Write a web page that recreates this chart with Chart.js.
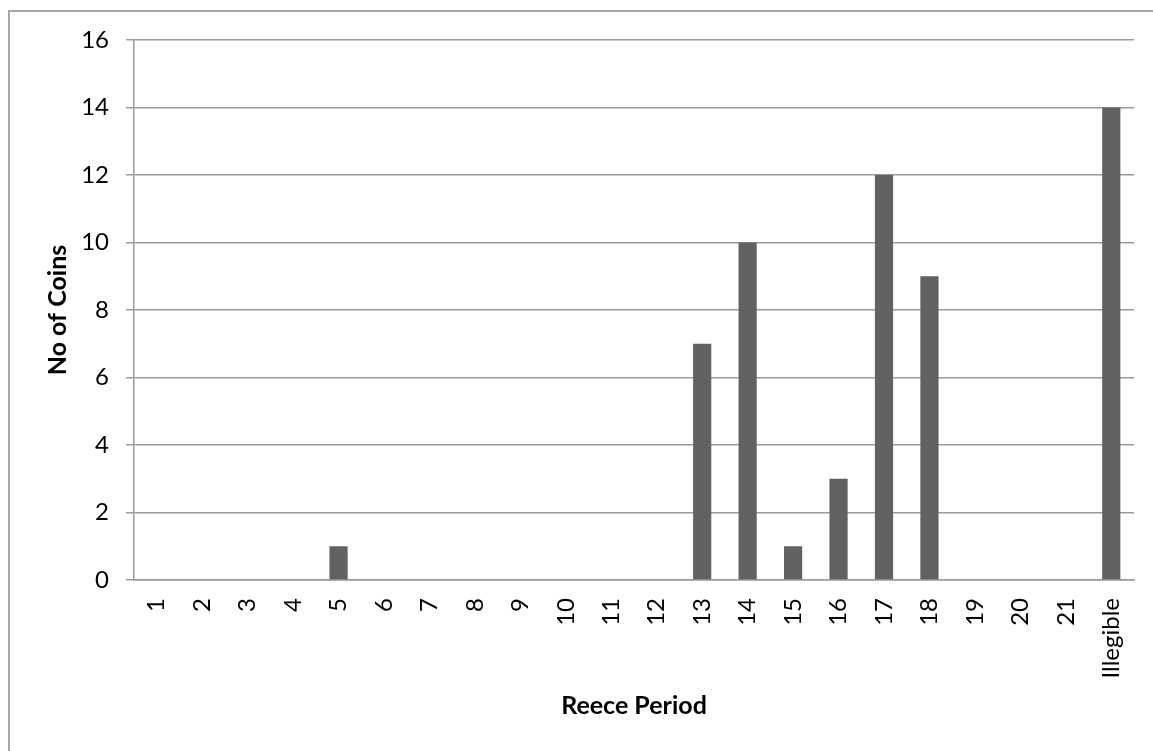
<!DOCTYPE html>
<html>
<head>
<meta charset="utf-8">
<script src="https://cdn.jsdelivr.net/npm/chart.js@4"></script>
<style>
  html, body { margin: 0; padding: 0; background: #fff; overflow: hidden; }
  #wrap { position: relative; width: 1153px; height: 751px; }
  #frame {
    position: absolute; left: 8px; top: 10px; width: 1300px; height: 900px;
    border-top: 2px solid #a6a6a6; border-left: 2px solid #a6a6a6;
  }
  canvas { position: absolute; left: 0; top: 0; }
</style>
</head>
<body>
<div id="wrap">
  <div id="frame"></div>
  <canvas id="chart" width="1153" height="751"></canvas>
</div>
<script>
// Reece period coin counts
const periods = ['1', '2', '3', '4', '5', '6', '7', '8', '9', '10', '11', '12',
                 '13', '14', '15', '16', '17', '18', '19', '20', '21', 'Illegible'];
const coinCounts = [0, 0, 0, 0, 1, 0, 0, 0, 0, 0, 0, 0, 7, 10, 1, 3, 12, 9, 0, 0, 0, 14];
const yMin = 0;
const yMax = 16;
const yStep = 2;

const gridGray = '#9a9a9a';
const fontFamily = 'Lato, "Open Sans", sans-serif';

const ctx = document.getElementById('chart');

const coinChart = new Chart(ctx, {
    type: 'bar',
    data: {
        labels: periods,
        datasets: [{
            label: 'No of Coins',
            data: coinCounts,
            backgroundColor: '#616161',
            borderWidth: 0,
            barPercentage: 0.4,
            categoryPercentage: 1
        }]
    },
    options: {
        responsive: false,
        animation: false,
        devicePixelRatio: 1,
        layout: {
            padding: { left: 43, right: 19, top: 40, bottom: 30 }
        },
        plugins: {
            legend: { display: false },
            tooltip: { enabled: false }
        },
        scales: {
            x: {
                grid: { display: false, drawTicks: false },
                border: { display: true, color: gridGray, width: 1.5 },
                ticks: {
                    autoSkip: false,
                    minRotation: 90,
                    maxRotation: 90,
                    padding: 18,
                    color: '#000',
                    font: { family: fontFamily, size: 24 }
                },
                title: {
                    display: true,
                    text: 'Reece Period',
                    color: '#000',
                    padding: 0,
                    font: { family: fontFamily, size: 25, weight: 'bold' }
                },
                afterFit: (scale) => {
                    scale.height = 141;
                    scale.paddingLeft = 0;
                    scale.paddingRight = 0;
                }
            },
            y: {
                min: yMin,
                max: yMax,
                grid: { color: gridGray, lineWidth: 1.5, tickLength: 8 },
                border: { display: true, color: gridGray, width: 1.5 },
                ticks: {
                    stepSize: yStep,
                    padding: 17,
                    color: '#000',
                    font: { family: fontFamily, size: 24 }
                },
                title: {
                    display: true,
                    text: 'No of Coins',
                    color: '#000',
                    padding: 0,
                    font: { family: fontFamily, size: 25, weight: 'bold' }
                },
                afterFit: (scale) => { scale.width = 91; }
            }
        }
    }
});
</script>
</body>
</html>
